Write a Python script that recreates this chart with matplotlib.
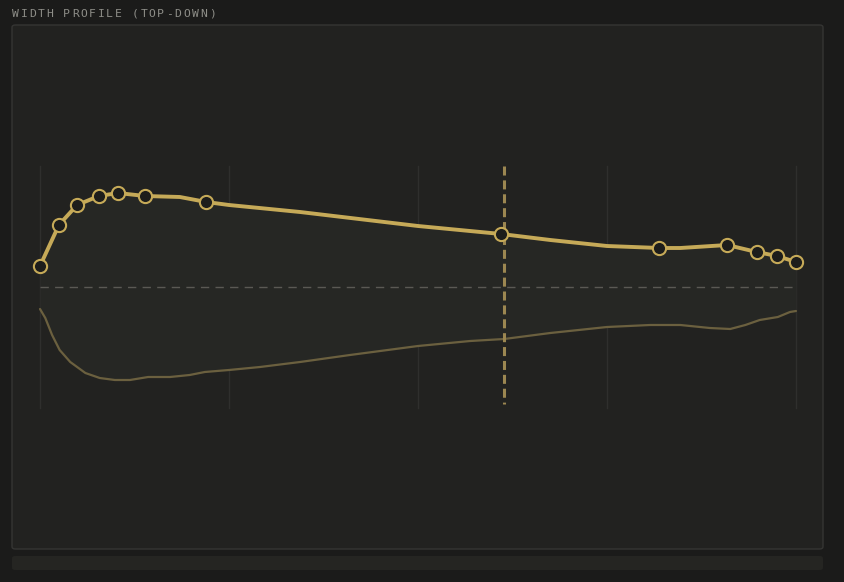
import numpy as np
import matplotlib.pyplot as plt
from matplotlib.patches import FancyBboxPatch

# station along the length (0 = nose, 1 = tail) and half-widths (arbitrary units)
top_x = [0.0, 0.025, 0.049, 0.078, 0.103, 0.139, 0.185, 0.220, 0.250, 0.344,
         0.500, 0.610, 0.675, 0.750, 0.819, 0.847, 0.909, 0.948, 0.975, 1.0]
top_w = [21, 62, 82, 91, 94, 91, 90, 85, 82, 75, 61, 53, 47, 41, 39, 39, 42, 35, 31, 25]
marker_idx = [0, 1, 2, 3, 4, 5, 7, 11, 14, 16, 17, 18, 19]

bot_x = [0.0, 0.007, 0.016, 0.026, 0.040, 0.060, 0.079, 0.099, 0.119, 0.143,
         0.172, 0.198, 0.218, 0.250, 0.291, 0.344, 0.410, 0.500, 0.569, 0.614,
         0.675, 0.750, 0.807, 0.847, 0.886, 0.913, 0.933, 0.952, 0.976, 0.992, 1.0]
bot_w = [-22, -31, -48, -63, -75, -86, -91, -93, -93, -90,
         -90, -88, -85, -83, -80, -75, -68, -59, -54, -52,
         -46, -40, -38, -38, -41, -42, -38, -33, -30, -25, -24]

cut_x = 0.614
grid_x = [0.0, 0.25, 0.5, 0.75, 1.0]
title = "WIDTH PROFILE (TOP-DOWN)"

BG = "#1b1b1a"
PANEL = "#222220"
GOLD = "#c6aa58"
GOLD_DIM = "#6b603f"

plt.rcParams['lines.scale_dashes'] = False

fig = plt.figure(figsize=(8.45, 5.82), dpi=100)
fig.patch.set_facecolor(BG)
W, H = 845, 582

# panel frame
fig.patches.append(FancyBboxPatch((12 / W, 1 - 549 / H), 811 / W, 524 / H,
                                  boxstyle="round,pad=0,rounding_size=0.004",
                                  transform=fig.transFigure, facecolor=PANEL,
                                  edgecolor="#353533", linewidth=1.0, zorder=-2))
# bottom strip
fig.patches.append(FancyBboxPatch((12 / W, 1 - 570 / H), 811 / W, 14 / H,
                                  boxstyle="round,pad=0,rounding_size=0.004",
                                  transform=fig.transFigure, facecolor="#252522",
                                  edgecolor="none", zorder=-2))

for i, ch in enumerate(title):
    fig.text((12 + i * 8.55) / W, 1 - 17 / H, ch, color="#8e8e88",
             fontsize=8.2, family="DejaVu Sans Mono", va="baseline", ha="left")

ax = fig.add_axes([13 / W, 1 - 548 / H, 809 / W, 522 / H])
ax.set_facecolor("none")
ax.set_xlim((13 - 40) / 756, (822 - 40) / 756)
ax.set_ylim(-261, 261)
ax.axis("off")

for gx in grid_x:
    ax.plot([gx, gx], [121, -121], color="#2f2f2d", lw=1.0, zorder=1)

# filled outline between top and bottom edges
xs = np.linspace(0, 1, 400)
ax.fill_between(xs, np.interp(xs, top_x, top_w), np.interp(xs, bot_x, bot_w),
                color="#262724", zorder=1, lw=0)

ax.plot([0, 1], [0, 0], color="#5a5954", lw=1.0, dashes=(6, 4.5), zorder=2)

ax.plot(bot_x, bot_w, color=GOLD_DIM, lw=1.6, zorder=3, solid_capstyle="round",
        solid_joinstyle="round")

ax.plot([cut_x, cut_x], [121, -117], color="#9c8751", lw=2.2, dashes=(6.5, 3.5), zorder=3)

ax.plot(top_x, top_w, color=GOLD, lw=2.8, zorder=4, solid_capstyle="round",
        solid_joinstyle="round")
ax.plot([top_x[i] for i in marker_idx], [top_w[i] for i in marker_idx], "o",
        ms=9.5, mfc="#1d1d1b", mec=GOLD, mew=1.5, zorder=5)

fig.savefig("out.png", dpi=100, facecolor=BG)
